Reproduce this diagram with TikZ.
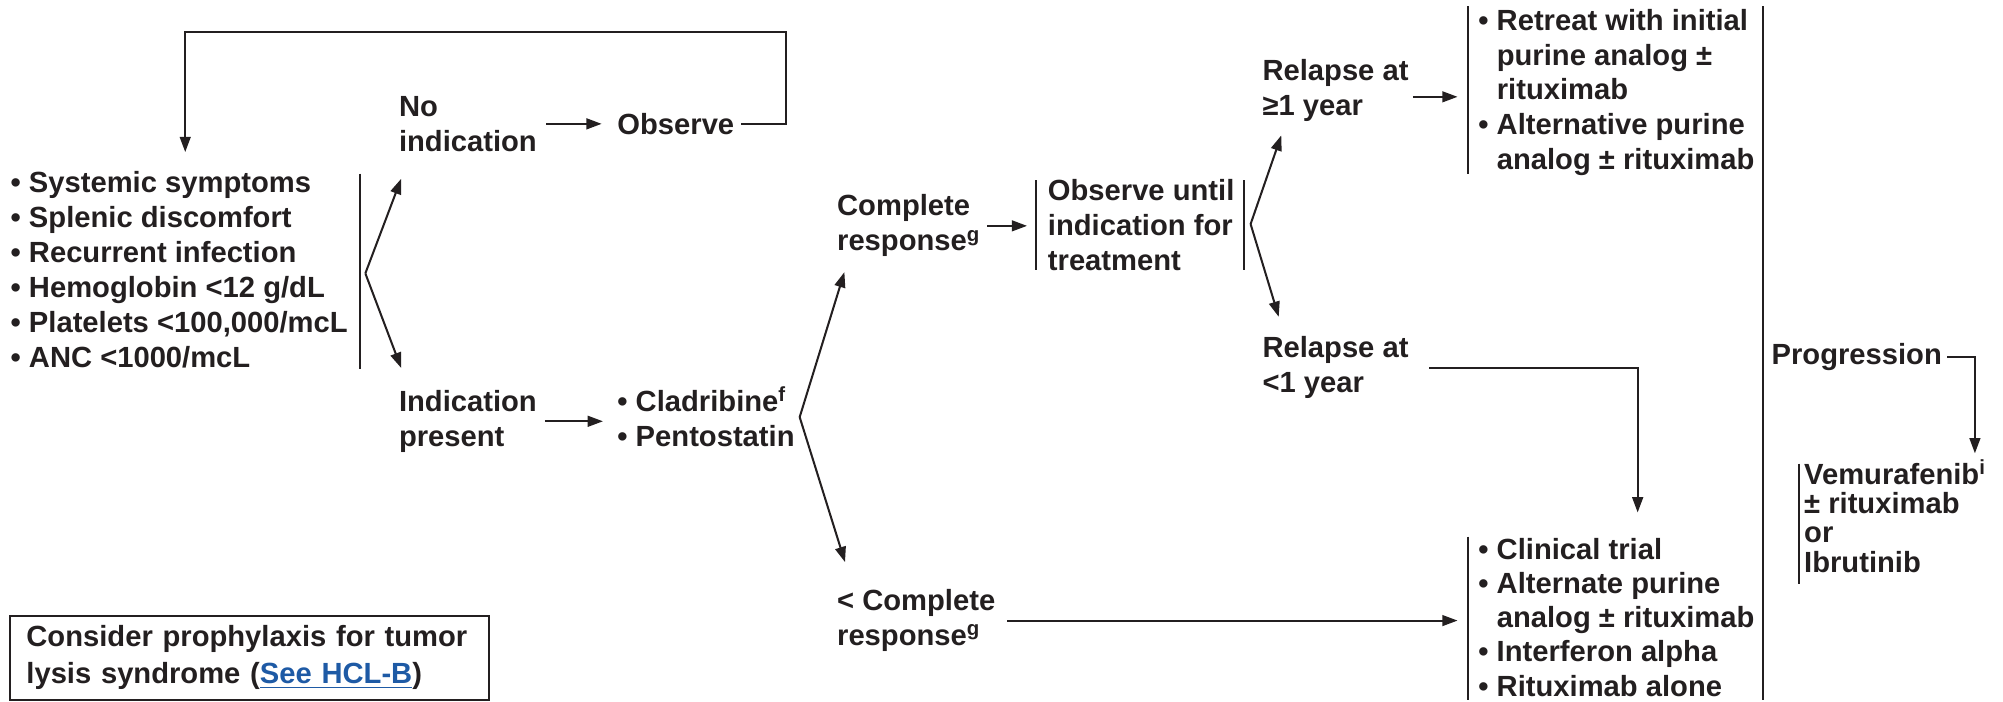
\documentclass[tikz,border=0pt]{standalone}
\usepackage{fontspec}
\setmainfont{Liberation Sans}
\usetikzlibrary{arrows.meta,calc}
\definecolor{inkblack}{RGB}{35,31,32}
\definecolor{linkblue}{RGB}{30,90,165}
\newcommand{\bulletgap}{\hspace*{0.63em}}

\begin{document}
\begin{tikzpicture}
[x=0.02cm, y=-0.02cm,
  textdecorate/.style={anchor=base west, align=left, inner sep=0pt, text=inkblack,
    font=\fontsize{13}{15.6}\selectfont\bfseries},
  linedecorate/.style={-, line width=0.9pt, color=inkblack},
  arrowdecorate/.style={-{Triangle[length=6.8pt,width=4.8pt]}, line width=0.9pt, color=inkblack},
  boxdecorate/.style={draw=inkblack, line width=0.9pt, align=left, text=inkblack,
    text width=199pt, inner xsep=6.8pt, minimum width=213.4pt, minimum height=37.6pt,
    font=\fontsize{13}{16.5}\selectfont\bfseries}]
\useasboundingbox (0,0) rectangle (1568,549);

%% text nodes (placed by the baseline of their last line)
\node[textdecorate] (sympt) at (8,288) {• Systemic symptoms\\• Splenic discomfort\\• Recurrent infection\\• Hemoglobin <12 g/dL\\• Platelets <100,000/mcL\\• ANC <1000/mcL};
\node[textdecorate] (noind) at (312,118.4) {No\\indication};
\node[textdecorate] (obs) at (483,105) {Observe};
\node[textdecorate] (indic) at (312,349.4) {Indication\\present};
\node[textdecorate] (clad) at (483,349.4) {• Cladribine\textsuperscript{f}\\• Pentostatin};
\node[textdecorate] (compl) at (655,196.4) {Complete\\response\textsuperscript{g}};
\node[textdecorate] (obsu) at (820,211.8) {Observe until\\indication for\\treatment};
\node[textdecorate] (rel1) at (988,90.4) {Relapse at\\≥1 year};
\node[textdecorate] (rel2) at (988,307.4) {Relapse at\\<1 year};
\node[textdecorate] (lessc) at (655,505.4) {< Complete\\response\textsuperscript{g}};
\node[textdecorate, font=\fontsize{13}{15.4}\selectfont\bfseries] (retr) at (1157,132.3)
  {• Retreat with initial\\\bulletgap purine analog ±\\\bulletgap rituximab\\• Alternative purine\\\bulletgap analog ± rituximab};
\node[textdecorate, font=\fontsize{13}{15.2}\selectfont\bfseries] (clin) at (1157,544.9)
  {• Clinical trial\\• Alternate purine\\\bulletgap analog ± rituximab\\• Interferon alpha\\• Rituximab alone};
\node[textdecorate] (prog) at (1386.5,285) {Progression};
\node[textdecorate, font=\fontsize{13}{13.1}\selectfont\bfseries] (vemu) at (1412,448)
  {Vemurafenib\textsuperscript{i}\\± rituximab\\or\\Ibrutinib};
\node[boxdecorate] (note) at (195.5,515)
  {Consider prophylaxis for tumor\\lysis syndrome ({\color{linkblue}\underline{See HCL-B}})};

%% bracket bars
\foreach \x/\ya/\yb in {282/136/289, 811/141/211, 974/141/211, 1149/5/136,
  1149/420/548, 1380/5/548, 1408.5/363/457} {
  \draw[linedecorate] (\x,\ya) -- (\x,\yb);
}

%% forks
\foreach \cname/\x/\y in {f1/286/214, t1a/314/140, t1b/314/288, f2/626/326.5,
  t2a/661/213, t2b/661.5/440, f3/979/175.4, t3a/1003/106, t3b/1001/248} {
  \coordinate (\cname) at (\x,\y);
}
\path
\foreach \fork/\tip in {f1/t1a, f1/t1b, f2/t2a, f2/t2b, f3/t3a, f3/t3b} {
  (\fork) edge[arrowdecorate] (\tip)
};

%% straight arrows
\draw[arrowdecorate] ($(noind.east)+(7,0)$) -- ($(noind.east -| obs.west)+(-12,0)$);
\draw[arrowdecorate] ($(indic.east)+(6,0)$) -- ($(indic.east -| clad.west)+(-11,0)$);
\draw[arrowdecorate] ($(compl.east)+(5,0)$) -- ($(compl.east -| obsu.west)+(-16,0)$);
\draw[arrowdecorate] ($(rel1.east)+(3,5)$) -- ($(rel1.east -| retr.west)+(-16,5)$);
\draw[arrowdecorate] ($(lessc.east)+(9,0)$) -- ($(lessc.east -| clin.west)+(-16,0)$);

%% elbow arrows
\coordinate (loopR) at (615,25);
\draw[arrowdecorate] ($(obs.east)+(5,0)$) -| (loopR) -| ($(sympt.north west)+(137,-15)$);
\draw[arrowdecorate] ($(rel2.east)+(16,0)$) -| ($(clin.north west)+(125,-20)$);
\draw[arrowdecorate] ($(prog.east)+(4,0)$) -| ($(vemu.north west)+(134,-4.5)$);
\end{tikzpicture}
\end{document}
